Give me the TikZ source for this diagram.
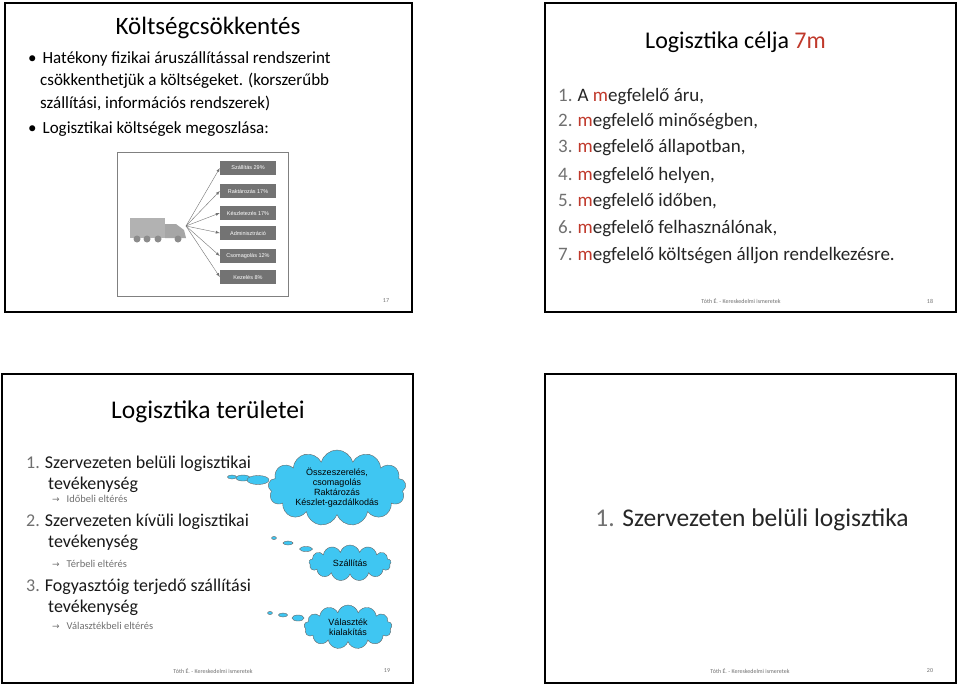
\documentclass[tikz,border=0pt]{standalone}
\usepackage{fontspec}
\setmainfont{Carlito}
\newfontfamily\arial{Liberation Sans}
\newfontfamily\dejavu{DejaVu Sans}
\usetikzlibrary{shapes.symbols,shapes.geometric}
\definecolor{redm}{HTML}{C0392B}
\definecolor{numgray}{HTML}{707070}
\definecolor{cloudc}{HTML}{3FC6F2}
\begin{document}
\begin{tikzpicture}[x=1pt,y=-1pt,
  slide/.style={draw=black,line width=1.5pt},
  foot/.style={font=\fontsize{6}{7}\selectfont,text=numgray,inner sep=0},
  bodyl/.style={anchor=west,inner sep=0,font=\fontsize{17}{20}\selectfont},
  item/.style={anchor=west,inner sep=0,font=\fontsize{19}{22}\selectfont,text=black!85},
  item2/.style={anchor=west,inner sep=0,font=\fontsize{18}{21}\selectfont,text=black!90,align=left},
  lbl/.style={fill=black!55,text=white,font=\arial\fontsize{5.5}{6}\selectfont,minimum width=56pt,minimum height=14pt,inner sep=0},
  cl/.style={cloud,cloud puffs=13,cloud ignores aspect,draw=black!60,fill=cloudc,font=\arial\fontsize{9}{10}\selectfont,align=center,inner sep=0},
  bub/.style={ellipse,draw=black!60,fill=cloudc,inner sep=0},
  sar/.style={anchor=west,inner sep=0,font=\dejavu\fontsize{9}{10}\selectfont,text=numgray}]
\useasboundingbox (0,0) rectangle (960,685);
\fill[white] (0,0) rectangle (960,685);
% slides
\draw[slide] (5,3) rectangle (412,312);
\draw[slide] (545,3) rectangle (956,312);
\draw[slide] (2,374) rectangle (413,683);
\draw[slide] (545,374) rectangle (956,683);
% slide 17
\node[inner sep=0,font=\fontsize{25}{30}\selectfont] (t1) at (208,28) {Költségcsökkentés};
\node[bodyl] (b1) at (28,59) {\textbullet\hspace{6pt}Hatékony fizikai áruszállítással rendszerint};
\node[bodyl] (b1b) at (40,81) {csökkenthetjük a költségeket. (korszerűbb};
\node[bodyl] (b1c) at (40,103) {szállítási, információs rendszerek)};
\node[bodyl] (b2) at (28,129) {\textbullet\hspace{6pt}Logisztikai költségek megoszlása:};
\draw[black!50,line width=0.8pt] (117,152) rectangle (288,296);
% truck
\fill[black!30] (130,218) rectangle (165,238);
\fill[black!35] (165,224) -- (176,224) -- (184,230) -- (186,238) -- (165,238) -- cycle;
\foreach \xx in {137,147,158,178}{\fill[black!45] (\xx,239) circle (3.5pt);}
\coordinate (src) at (186,226);
\foreach \yy/\tt [count=\i] in {168/Szállítás 29\%,191/Raktározás 17\%,213/Készletezés 17\%,233/Adminisztráció,256/Csomagolás 12\%,277/Kezelés 8\%}{
  \node[lbl] (L\i) at (248,\yy) {\tt};
  \draw[black!55,-latex,line width=0.4pt] (src) -- (L\i.west);
}
\node[foot] (p17) at (386,301) {17};
% slide 18
\node[inner sep=0,font=\fontsize{24}{28}\selectfont,anchor=west] (t2) at (645,42) {Logisztika célja \textcolor{redm}{7m}};
\foreach \yy/\tt [count=\i] in {97/{A \textcolor{redm}{m}egfelelő áru,},122/{\textcolor{redm}{m}egfelelő minőségben,},148/{\textcolor{redm}{m}egfelelő állapotban,},176/{\textcolor{redm}{m}egfelelő helyen,},202/{\textcolor{redm}{m}egfelelő időben,},229/{\textcolor{redm}{m}egfelelő felhasználónak,},256/{\textcolor{redm}{m}egfelelő költségen álljon rendelkezésre.}}{
  \node[item] (n\i) at (558,\yy) {\textcolor{numgray}{\i.}\hspace{5pt}\tt};
}
\node[foot] (f18) at (741,301) {Tóth É. - Kereskedelmi ismeretek};
\node[foot] (p18) at (930,301) {18};
% slide 19
\node[inner sep=0,font=\fontsize{25.5}{30}\selectfont] (t3) at (208,412) {Logisztika területei};
\node[item2] (a1) at (26,474) {\textcolor{numgray}{1.}\hspace{5pt}Szervezeten belüli logisztikai\\\hspace*{22pt}tevékenység};
\node[sar] (s1) at (52,499) {→\hspace{7pt}\fontsize{10.5}{12}\selectfont\rmfamily Időbeli eltérés};
\node[item2] (a2) at (26,532) {\textcolor{numgray}{2.}\hspace{5pt}Szervezeten kívüli logisztikai\\\hspace*{22pt}tevékenység};
\node[sar] (s2) at (52,564) {→\hspace{7pt}\fontsize{10.5}{12}\selectfont\rmfamily Térbeli eltérés};
\node[item2] (a3) at (26,597) {\textcolor{numgray}{3.}\hspace{5pt}Fogyasztóig terjedő szállítási\\\hspace*{22pt}tevékenység};
\node[sar] (s3) at (52,626) {→\hspace{7pt}\fontsize{10.5}{12}\selectfont\rmfamily Választékbeli eltérés};
\node[cl,minimum width=138pt,minimum height=76pt] (c1) at (337,488) {Összeszerelés,\\csomagolás\\Raktározás\\Készlet-gazdálkodás};
\node[cl,minimum width=82pt,minimum height=36pt] (c2) at (350,563) {Szállítás};
\node[cl,minimum width=88pt,minimum height=44pt] (c3) at (348,627) {Választék\\kialakítás};
\node[bub,minimum width=9pt,minimum height=4pt] (e1) at (232,477) {};
\node[bub,minimum width=14pt,minimum height=6pt] (e2) at (243,478) {};
\node[bub,minimum width=22pt,minimum height=9pt] (e3) at (258,480) {};
\node[bub,minimum width=5pt,minimum height=3pt] (e4) at (274,538) {};
\node[bub,minimum width=10pt,minimum height=4pt] (e5) at (288,543) {};
\node[bub,minimum width=13pt,minimum height=5pt] (e6) at (306,549) {};
\node[bub,minimum width=5pt,minimum height=3pt] (e7) at (270,613) {};
\node[bub,minimum width=9pt,minimum height=4pt] (e8) at (283,615) {};
\node[bub,minimum width=12pt,minimum height=6pt] (e9) at (298,618) {};
\node[foot] (f19) at (213,671) {Tóth É. - Kereskedelmi ismeretek};
\node[foot] (p19) at (387,671) {19};
% slide 20
\node[inner sep=0,font=\fontsize{25.5}{30}\selectfont,text=black!85] (t4) at (752,520) {\textcolor{numgray}{1.} Szervezeten belüli logisztika};
\node[foot] (f20) at (750,671) {Tóth É. - Kereskedelmi ismeretek};
\node[foot] (p20) at (930,671) {20};
\end{tikzpicture}
\end{document}
